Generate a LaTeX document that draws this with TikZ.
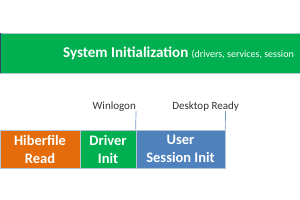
\documentclass[tikz,border=0pt]{standalone}
\usepackage{fontspec}
\setmainfont{Carlito}
\definecolor{sysgreen}{RGB}{0,176,80}
\definecolor{hiborange}{RGB}{228,108,10}
\definecolor{usrblue}{RGB}{79,129,189}
\definecolor{edgegray}{RGB}{180,195,210}
\tikzset{
  phase/.style={draw=edgegray, line width=0.6pt, text=white, font=\fontsize{14.5}{18}\selectfont\bfseries, align=center, inner sep=0pt, minimum height=38pt},
  marker/.style={draw=usrblue!80, line width=0.7pt},
  mlabel/.style={font=\fontsize{11}{12}\selectfont, text=black!80, anchor=base east, inner sep=0pt}
}
\begin{document}
\begin{tikzpicture}[x=1pt,y=-1pt]
\useasboundingbox (0,0) rectangle (300,200);
\begin{scope}
\clip (0,0) rectangle (300,200);
\fill[sysgreen] (0,33) rectangle (320,73);
\draw[edgegray, line width=0.6pt] (0,33) -- (320,33) (0,73) -- (320,73);
\draw[black!45!usrblue, line width=1.2pt] (0.6,33) -- (0.6,73);
\node[anchor=base west, inner sep=0pt, text=white] (sys) at (63,58)
  {\fontsize{15}{17}\selectfont\bfseries System Initialization\ \fontsize{10}{11}\mdseries (drivers, services, session};
\end{scope}
\node[phase, fill=hiborange, minimum width=80pt] (hib) at (40,149) {Hiberfile\\Read};
\node[phase, fill=sysgreen, minimum width=56pt] (drv) at (108,149) {Driver\\Init};
\node[phase, fill=usrblue, minimum width=89pt] (usr) at (180.5,149) {User\\Session Init};
\coordinate (wtop) at (136,111);
\coordinate (dtop) at (225.5,111);
\draw[marker] (usr.north west) -- (wtop);
\draw[marker] (usr.north east) -- (dtop);
\node[mlabel] (win) at (136,109.5) {Winlogon};
\node[mlabel] (desk) at (239,109.5) {Desktop Ready};
\end{tikzpicture}
\end{document}
